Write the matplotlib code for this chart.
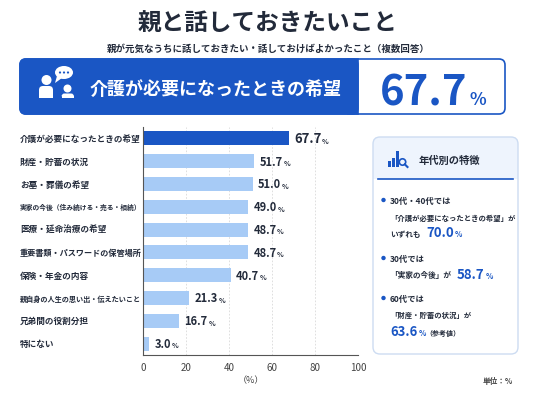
import matplotlib
matplotlib.use('Agg')
import matplotlib.pyplot as plt
from matplotlib.patches import FancyBboxPatch, Rectangle, Circle, Ellipse, Polygon
from matplotlib.transforms import blended_transform_factory

plt.rcParams['font.family'] = ['Noto Sans CJK JP', 'DejaVu Sans']

# データ
categories = ['介護が必要になったときの希望', '財産・貯蓄の状況', 'お墓・葬儀の希望',
              '実家の今後（住み続ける・売る・相続）', '医療・延命治療の希望',
              '重要書類・パスワードの保管場所', '保険・年金の内容',
              '親自身の人生の思い出・伝えたいこと', '兄弟間の役割分担', '特にない']
values = [67.7, 51.7, 51.0, 49.0, 48.7, 48.7, 40.7, 21.3, 16.7, 3.0]
xticks = [0, 20, 40, 60, 80, 100]

title = '親と話しておきたいこと'
subtitle = '親が元気なうちに話しておきたい・話しておけばよかったこと（複数回答）'
top_item = '介護が必要になったときの希望'
top_value = '67.7'

panel_title = '年代別の特徴'
note1 = ['30代・40代では', '「介護が必要になったときの希望」が', 'いずれも', '70.0']
note2 = ['30代では', '「実家の今後」が', '58.7']
note3 = ['60代では', '「財産・貯蓄の状況」が', '63.6', '（参考値）']

BLUE = '#1a56c4'
LIGHT = '#a7cbf6'
DARK = '#222a3a'

fig = plt.figure(figsize=(5.36, 4.02), dpi=100)
fig.patch.set_facecolor('white')

# 背景用の重ね軸（ピクセル座標）
ov = fig.add_axes([0, 0, 1, 1], zorder=0)
ov.set_xlim(0, 536)
ov.set_ylim(402, 0)
ov.axis('off')

ov.text(268, 24, title, ha='center', va='center', fontsize=17, fontweight='bold', color=DARK)
ov.text(268, 49, subtitle, ha='center', va='center', fontsize=6.8, fontweight='bold', color=DARK)

# バナー
ov.add_patch(FancyBboxPatch((20, 60), 485, 55, boxstyle='round,pad=0,rounding_size=6',
                            fc='white', ec=BLUE, lw=1.2))
ov.add_patch(FancyBboxPatch((20, 60), 338, 55, boxstyle='round,pad=0,rounding_size=6',
                            fc=BLUE, ec=BLUE, lw=1.2))
ov.add_patch(Rectangle((348, 60), 10, 55, fc=BLUE, ec=BLUE, lw=1.2))

# 人物アイコン
ov.add_patch(Circle((46.5, 81), 5, fc='white', ec='none'))
ov.add_patch(FancyBboxPatch((39, 87), 14, 12, boxstyle='round,pad=0,rounding_size=4', fc='white', ec='none'))
ov.add_patch(Rectangle((39, 94), 14, 5, fc='white', ec='none'))
ov.add_patch(Circle((67.5, 89.5), 4, fc='white', ec='none'))
ov.add_patch(FancyBboxPatch((61.5, 94.5), 12.5, 4.5, boxstyle='round,pad=0,rounding_size=3', fc='white', ec='none'))
ov.add_patch(Rectangle((61.5, 97), 12.5, 2, fc='white', ec='none'))
ov.add_patch(Ellipse((64, 73.5), 18, 13, fc='white', ec='none'))
ov.add_patch(Polygon([(57, 77), (55, 84), (62, 79)], fc='white', ec='none'))
for dx in (-4, 0, 4):
    ov.add_patch(Circle((64 + dx, 73.5), 1.1, fc=BLUE, ec='none'))

ov.text(90, 89, top_item, ha='left', va='center', fontsize=13, fontweight='bold', color='white')
ov.text(380, 105, top_value, ha='left', va='baseline', fontsize=30, fontweight='bold', color=BLUE)
ov.text(470, 105, '%', ha='left', va='baseline', fontsize=12.5, fontweight='bold', color=BLUE)

# 右側パネル
ov.add_patch(FancyBboxPatch((373, 138), 145, 50, boxstyle='round,pad=0,rounding_size=7',
                            fc='#eef4fd', ec='none'))
ov.add_patch(Rectangle((373, 180), 145, 168, fc='white', ec='none'))
ov.add_patch(FancyBboxPatch((373, 138), 145, 217, boxstyle='round,pad=0,rounding_size=7',
                            fc='none', ec='#cddcf2', lw=1))
ov.plot([378, 513], [180, 180], color=BLUE, lw=1.2)
ov.add_patch(Rectangle((387.5, 162), 3, 6, fc=BLUE, ec='none'))
ov.add_patch(Rectangle((391.5, 159), 3, 9, fc=BLUE, ec='none'))
ov.add_patch(Rectangle((395.5, 152), 3, 16, fc=BLUE, ec='none'))
ov.add_patch(Circle((402.5, 163), 3.2, fc='none', ec=BLUE, lw=1.2))
ov.plot([404.8, 407.5], [165.3, 168], color=BLUE, lw=1.5)
ov.text(419, 161, panel_title, ha='left', va='center', fontsize=7.4, fontweight='bold', color=DARK)

for by in (201, 259, 299):
    ov.add_patch(Circle((383.5, by), 2.2, fc=BLUE, ec='none'))

kw = dict(ha='left', va='baseline', fontweight='bold', color=DARK)
ov.text(390, 204, note1[0], fontsize=6, **kw)
ov.text(390, 221, note1[1], fontsize=5.3, **kw)
ov.text(390, 237, note1[2], fontsize=5.5, **kw)
ov.text(426, 237, note1[3], fontsize=9.5, fontweight='bold', color=BLUE, ha='left', va='baseline')
ov.text(454.5, 237, '%', fontsize=5.5, fontweight='bold', color=BLUE, ha='left', va='baseline')

ov.text(390, 262, note2[0], fontsize=6, **kw)
ov.text(390, 278, note2[1], fontsize=5.5, **kw)
ov.text(457, 279, note2[2], fontsize=9.5, fontweight='bold', color=BLUE, ha='left', va='baseline')
ov.text(485.5, 279, '%', fontsize=5.5, fontweight='bold', color=BLUE, ha='left', va='baseline')

ov.text(390, 302, note3[0], fontsize=6, **kw)
ov.text(390, 318, note3[1], fontsize=5.3, **kw)
ov.text(390, 336, note3[2], fontsize=9.5, fontweight='bold', color=BLUE, ha='left', va='baseline')
ov.text(418.5, 336, '%', fontsize=5.5, fontweight='bold', color=BLUE, ha='left', va='baseline')
ov.text(425, 336, note3[3], fontsize=5, **kw)

ov.text(498, 382, '単位：%', ha='center', va='center', fontsize=5.5, fontweight='bold', color='#444444')

# 棒グラフ
ax = fig.add_axes([143 / 536, 1 - 356 / 402, 215 / 536, 228 / 402], zorder=1)
ax.patch.set_alpha(0)
ypos = list(range(len(values)))
colors = [BLUE] + [LIGHT] * (len(values) - 1)
ax.barh(ypos, values, height=0.62, color=colors, zorder=2)
ax.set_xlim(0, 100)
ax.set_ylim(9.5, -0.5)
ax.set_xticks(xticks)
ax.set_xticklabels([str(t) for t in xticks], fontsize=7, color='#444444')
ax.set_yticks([])
ax.tick_params(axis='x', length=0, pad=5)
ax.grid(axis='x', color='#d9d9d9', ls=(0, (2, 2)), lw=0.6, zorder=0)
for s in ('top', 'right'):
    ax.spines[s].set_visible(False)
ax.spines['left'].set_color('#555555')
ax.spines['bottom'].set_color('#555555')
ax.spines['left'].set_linewidth(0.8)
ax.spines['bottom'].set_linewidth(0.8)
ax.set_xlabel('（%）', fontsize=6.5, color='#444444', labelpad=2)

# 項目名（長いものは幅に収まるよう縮小）
lab_tr = blended_transform_factory(ov.transData, ax.transData)

for i, (c, v) in enumerate(zip(categories, values)):
    lfs = min(6.2, 122 / len(c) * 72 / 100)
    ax.text(20, i, c, transform=lab_tr, ha='left', va='center',
            fontsize=lfs, fontweight='bold', color=DARK)
    fs = 9.5 if i == 0 else 8
    t = ax.annotate(f'{v:.1f}', xy=(v, i), xytext=(4, 0), textcoords='offset points',
                    ha='left', va='center', fontsize=fs, fontweight='bold', color=DARK)
    ax.annotate('%', xy=(1, 0), xycoords=t, xytext=(0.5, 1.2), textcoords='offset points',
                ha='left', va='bottom', fontsize=5, fontweight='bold', color=DARK)

fig.savefig('out.png', dpi=100)
